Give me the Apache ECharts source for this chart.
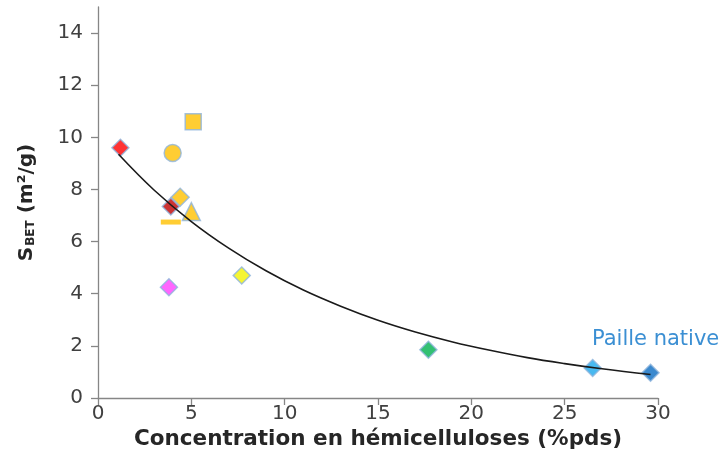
<!DOCTYPE html>
<html>
<head>
<meta charset="utf-8">
<script src="https://cdn.jsdelivr.net/npm/echarts@6/dist/echarts.min.js"></script>
<style>html,body{margin:0;padding:0;background:#fff}#c{width:726px;height:475px}</style>
</head>
<body>
<div id="c"></div>
<script>
// Data
const pointIds = ['p1','p2','p3','p4','p5','p6','p7','p8','p9','p10','p11','p12'];
const hemiX   = [1.2, 5.1, 4.0, 4.4, 3.9, 5.0, 3.9, 3.8, 7.7, 17.7, 26.5, 29.6];
const sbetY   = [9.6, 10.6, 9.4, 7.7, 7.35, 7.15, 6.75, 4.25, 4.7, 1.85, 1.15, 0.97];
const trendX  = [1.1, 3, 5, 7, 9, 11, 13, 15, 17, 19, 21, 23, 25, 27, 29.6];
const trendY  = [9.35, 7.98, 6.77, 5.75, 4.88, 4.14, 3.52, 2.98, 2.53, 2.15, 1.83, 1.55, 1.32, 1.12, 0.9];
const xTicks  = [0, 5, 10, 15, 20, 25, 30];
const yTicks  = [0, 2, 4, 6, 8, 10, 12, 14];
const annotation = 'Paille native';

// Styles (not data)
const styles = [
  {symbol:'diamond', size:17, color:'#ff0000'},
  {symbol:'rect', size:16, color:'#ffc000'},
  {symbol:'circle', size:17, color:'#ffc000'},
  {symbol:'diamond', size:18, color:'#ffc000'},
  {symbol:'diamond', size:17, color:'#c00000'},
  {symbol:'triangle', size:18, color:'#ffc000'},
  {symbol:'rect', size:[20,5], color:'#ffc000', noBorder:true},
  {symbol:'diamond', size:17, color:'#ff40ff'},
  {symbol:'diamond', size:17, color:'#f2f200'},
  {symbol:'diamond', size:17, color:'#00b050'},
  {symbol:'diamond', size:17, color:'#1aa8ec'},
  {symbol:'diamond', size:17, color:'#0a6cc2'}
];

const font = '"DejaVu Sans", sans-serif';
const series = pointIds.map((id, i) => ({
  name: id,
  type: 'scatter',
  z: 2,
  symbol: styles[i].symbol,
  symbolSize: styles[i].size,
  itemStyle: {
    color: styles[i].color,
    borderColor: styles[i].noBorder ? 'transparent' : '#8fb4dc',
    borderWidth: styles[i].noBorder ? 0 : 1.5
  },
  data: [[hemiX[i], sbetY[i]]]
}));
series.push({
  name: 'trend',
  type: 'line',
  smooth: 0.4,
  z: 5,
  symbol: 'none',
  lineStyle: {color: '#1a1a1a', width: 1.6},
  data: trendX.map((x, i) => [x, trendY[i]])
});

const chart = echarts.init(document.getElementById('c'));
chart.setOption({
  animation: false,
  backgroundColor: '#fff',
  grid: {left: 98, right: 68, top: 7, bottom: 77, containLabel: false},
  xAxis: {
    type: 'value', min: 0, max: 30, interval: 5,
    name: 'Concentration en hémicelluloses (%pds)',
    nameLocation: 'middle', nameGap: 30,
    nameTextStyle: {fontFamily: font, fontWeight: 'bold', fontSize: 21.5, color: '#262626'},
    axisLine: {onZero: false, lineStyle: {color: '#868686', width: 1.3}},
    axisTick: {show: true, inside: false, length: 7, lineStyle: {color: '#868686', width: 1.3}},
    axisLabel: {fontFamily: font, fontSize: 20, color: '#404040', margin: 6,
      customValues: xTicks},
    splitLine: {show: false}
  },
  yAxis: {
    type: 'value', min: 0, max: 15,
    name: '{s|S}{sub|BET}{s| (m²/g)}',
    nameLocation: 'middle', nameGap: 61, nameRotate: 90,
    nameTextStyle: {
      rich: {
        s: {fontFamily: font, fontWeight: 'bold', fontSize: 20, color: '#262626'},
        sub: {fontFamily: font, fontWeight: 'bold', fontSize: 12, color: '#262626', verticalAlign: 'bottom', padding: [7, 0, 0, 1]}
      }
    },
    axisLine: {show: true, onZero: false, lineStyle: {color: '#868686', width: 1.3}},
    axisTick: {show: true, inside: false, length: 7, customValues: yTicks, lineStyle: {color: '#868686', width: 1.3}},
    axisLabel: {fontFamily: font, fontSize: 20, color: '#404040', margin: 15, customValues: yTicks},
    splitLine: {show: false}
  },
  graphic: [{
    type: 'text', left: 592, top: 329,
    style: {text: annotation, fill: '#3b8fd3', font: '21px ' + font}
  }],
  series: series
});
</script>
</body>
</html>
